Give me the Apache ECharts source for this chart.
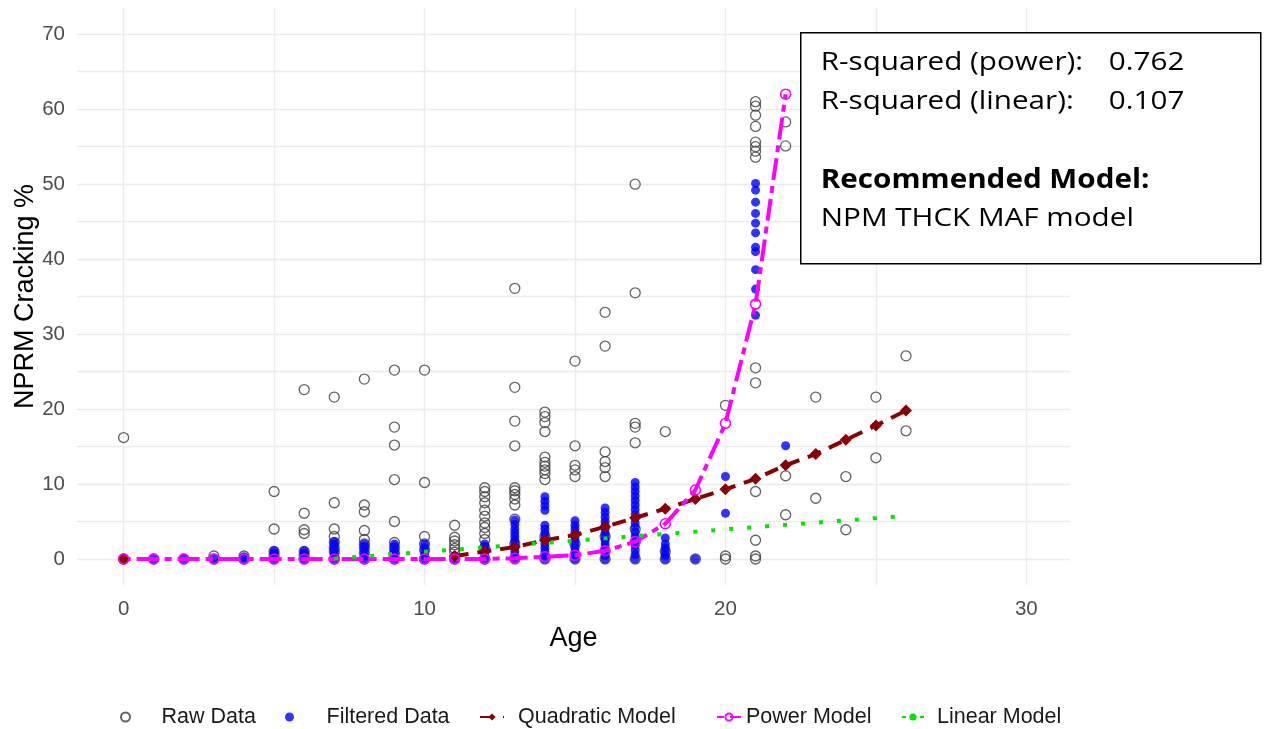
<!DOCTYPE html>
<html><head><meta charset="utf-8">
<script src="https://cdn.jsdelivr.net/npm/echarts@6/dist/echarts.min.js"></script>
<style>html,body{margin:0;padding:0;background:#fff}#c{width:1264px;height:729px}</style>
</head><body><div id="c"></div>
<script>
// ---- axis ticks ----
const xTickLabels = [0, 10, 20, 30];
const xGridValues = [0, 5, 10, 15, 20, 25, 30];
const yTickLabels = [0, 10, 20, 30, 40, 50, 60, 70];
const yGridValues = [0, 5, 10, 15, 20, 25, 30, 35, 40, 45, 50, 55, 60, 65, 70];

// ---- raw data [age, cracking %] ----
const rawData = [
 [0,16.2],[0,0],
 [1,0],[2,0],
 [3,0.4],[3,0],[4,0.4],[4,0],
 [5,9.0],[5,4.0],[5,1.0],[5,0.5],[5,0],
 [6,22.6],[6,6.1],[6,3.9],[6,3.4],[6,1.0],[6,0.5],[6,0],
 [7,21.6],[7,7.5],[7,4.0],[7,3.0],[7,2.2],[7,1.5],[7,1.0],[7,0],
 [8,24.0],[8,7.2],[8,6.3],[8,3.8],[8,2.6],[8,2.0],[8,1.5],[8,0.8],[8,0],
 [9,25.2],[9,17.6],[9,15.2],[9,10.6],[9,5.0],[9,2.2],[9,1.5],[9,0.8],[9,0],
 [10,25.2],[10,10.2],[10,3.0],[10,2.0],[10,1.2],[10,0],
 [11,4.5],[11,2.9],[11,2.4],[11,1.9],[11,1.4],[11,0.9],[11,0],
 [12,9.5],[12,9.0],[12,8.3],[12,7.5],[12,6.5],[12,5.7],[12,4.8],[12,4.2],[12,3.4],[12,2.6],[12,1.5],[12,0],
 [13,36.1],[13,22.9],[13,18.4],[13,15.1],[13,9.5],[13,9.1],[13,8.6],[13,8.0],[13,7.2],[13,5.3],[13,2.0],[13,0],
 [14,19.6],[14,19.0],[14,18.2],[14,17.0],[14,13.6],[14,12.9],[14,12.4],[14,11.9],[14,11.4],[14,10.6],[14,3.0],[14,0],
 [15,26.4],[15,15.1],[15,12.5],[15,11.9],[15,11.0],[15,2.0],[15,0],
 [16,32.9],[16,28.4],[16,14.3],[16,13.0],[16,12.2],[16,11.0],[16,3.0],[16,0],
 [17,50.0],[17,35.5],[17,18.1],[17,17.6],[17,15.5],[17,4.0],[17,0],
 [18,17.0],[18,1.0],[18,0],
 [19,0],
 [20,20.5],[20,0.4],[20,0],
 [21,61.0],[21,60.4],[21,59.2],[21,57.7],[21,55.6],[21,55.0],[21,54.4],[21,53.6],[21,25.5],[21,23.5],[21,9.0],[21,2.5],[21,0.4],[21,0],
 [22,58.3],[22,55.1],[22,11.1],[22,5.9],
 [23,21.6],[23,8.1],
 [24,11.0],[24,3.9],
 [25,21.6],[25,13.5],
 [26,27.1],[26,17.1]
];

// ---- filtered data [age, cracking %] ----
const filteredData = [
 [1,0],[2,0],[3,0],[4,0],[4,0.3],
 [5,0],[5,0.4],[5,0.8],[5,1.1],
 [6,0],[6,0.4],[6,0.8],[6,1.1],
 [7,0],[7,0.4],[7,0.8],[7,1.2],[7,1.6],[7,2.0],[7,2.3],
 [8,0],[8,0.4],[8,0.8],[8,1.2],[8,1.6],[8,2.0],
 [9,0],[9,0.4],[9,0.8],[9,1.2],[9,1.6],[9,2.0],
 [10,0],[10,0.5],[10,1.0],[10,1.5],[10,2.0],
 [11,0],[11,0.4],
 [12,0],[12,0.4],[12,0.8],[12,1.2],[12,1.6],[12,2.0],
 [13,0],[13,0.5],[13,1.0],[13,1.5],[13,2.0],[13,2.5],[13,3.0],[13,3.5],[13,4.0],[13,4.6],[13,5.2],
 [14,0],[14,0.5],[14,1.0],[14,1.5],[14,2.0],[14,2.5],[14,3.0],[14,3.5],[14,4.0],[14,4.5],[14,6.5],[14,7.1],[14,7.7],[14,8.3],
 [15,0],[15,0.5],[15,1.0],[15,1.5],[15,2.0],[15,2.5],[15,3.0],[15,3.5],[15,4.0],[15,4.5],[15,5.1],
 [16,0],[16,0.5],[16,1.0],[16,1.5],[16,2.0],[16,2.5],[16,3.0],[16,3.5],[16,4.0],[16,4.5],[16,5.0],[16,5.6],[16,6.2],[16,6.8],
 [17,0],[17,0.6],[17,1.2],[17,1.8],[17,2.4],[17,3.0],[17,3.6],[17,4.2],[17,4.8],[17,5.4],[17,6.0],[17,6.6],[17,7.2],[17,7.8],[17,8.4],[17,9.0],[17,9.6],[17,10.2],
 [18,0],[18,0.5],[18,1.0],[18,1.5],[18,2.0],[18,2.8],
 [19,0],
 [20,11.0],[20,6.1],
 [21,50.1],[21,49.2],[21,47.6],[21,46.1],[21,44.8],[21,43.5],[21,41.6],[21,41.0],[21,38.6],[21,36.0],[21,32.5],
 [22,15.1]
];

// ---- model curves ----
const quadAges   = [0, 11, 12, 13, 14, 15, 16, 17, 18, 19, 20, 21, 22, 23, 24, 25, 26];
const quadValues = [0, 0.4, 1.0, 1.6, 2.5, 3.2, 4.3, 5.5, 6.7, 8.0, 9.3, 10.7, 12.5, 14.0, 15.9, 17.8, 19.8];

const powerAges   = [0,1,2,3,4,5,6,7,8,9,10,11,12,13,14,15,16,17,18,19,20,21,22];
const powerValues = [0,0,0,0,0,0,0,0,0,0,0,0,0,0.1,0.3,0.5,1.1,2.3,4.7,9.2,18.1,34.0,62.0];

const linearAges   = [7,8,9,10,11,12,13,14,15,16,17,18,19,20,21,22,23,24,25,26];
const linearValues = [0.05,0.35,0.65,0.95,1.25,1.55,1.85,2.15,2.45,2.75,3.05,3.35,3.65,3.95,4.25,4.55,4.85,5.15,5.45,5.75];

const annotationLabels = ['R-squared (power):', 'R-squared (linear):'];
const annotationValues = ['0.762', '0.107'];
const recommendTitle = 'Recommended Model:';
const recommendName = 'NPM THCK MAF model';

// build quadratic pairs with a gap between the isolated age-0 point and the fitted range
const quadData = [];
quadAges.forEach((a, i) => {
  if (i === 1) quadData.push([ (quadAges[0] + a) / 2, '-' ]);
  quadData.push([a, quadValues[i]]);
});
const powerData = powerAges.map((a, i) => [a, powerValues[i]]);
const linearData = linearAges.map((a, i) => [a, linearValues[i]]);

const FONT = '"Liberation Sans", Arial, sans-serif';
const BOXFONT = '"Open Sans", "Noto Sans", sans-serif';
const gridColor = '#ebebeb';

function legendAt(name, left, itemWidth, padLeft) {
  return {
    data: [name], left: left, top: 701, orient: 'horizontal',
    itemWidth: itemWidth, itemHeight: 9, itemGap: 0,
    textStyle: { fontFamily: FONT, fontSize: 21.5, color: '#1a1a1a', padding: [0, 0, 0, padLeft] },
    selectedMode: false
  };
}

function boxText(text, x, y, bold) {
  return {
    type: 'text', x: x, y: y, z: 101, scaleX: 1.14, scaleY: 1,
    style: { text: text, font: (bold ? 'bold ' : '') + '26px ' + BOXFONT, fill: '#000', textVerticalAlign: 'middle' }
  };
}

const chart = echarts.init(document.getElementById('c'), null, { renderer: 'canvas' });
chart.setOption({
  animation: false,
  backgroundColor: '#fff',
  grid: { left: 77, right: 194, top: 8, bottom: 144, containLabel: false, outerBoundsMode: 'none' },
  xAxis: {
    type: 'value', min: -1.55, max: 31.45,
    axisLine: { show: false },
    axisTick: { show: false, customValues: xGridValues },
    splitLine: { show: true, lineStyle: { color: gridColor, width: 1.3 } },
    axisLabel: { customValues: xTickLabels, fontFamily: FONT, fontSize: 20.5, color: '#4d4d4d', margin: 14 },
    name: 'Age', nameLocation: 'middle', nameGap: 39,
    nameTextStyle: { fontFamily: FONT, fontSize: 27, color: '#000' }
  },
  yAxis: {
    type: 'value', min: -3.47, max: 73.5,
    axisLine: { show: false },
    axisTick: { show: false, customValues: yGridValues },
    splitLine: { show: true, lineStyle: { color: gridColor, width: 1.3 } },
    axisLabel: { customValues: yTickLabels, fontFamily: FONT, fontSize: 20.5, color: '#4d4d4d', margin: 12 },
    name: 'NPRM Cracking %', nameLocation: 'middle', nameGap: 38, nameMoveOverlap: false,
    nameTextStyle: { fontFamily: FONT, fontSize: 27, color: '#000' }
  },
  legend: [
    legendAt('Raw Data', 115, 14, 24),
    legendAt('Filtered Data', 280, 14, 25),
    legendAt('Quadratic Model', 474, 24, 9),
    legendAt('Power Model', 711, 24, 0),
    legendAt('Linear Model', 896, 22, 8)
  ],
  series: [
    {
      name: 'Raw Data', type: 'scatter', data: rawData, symbol: 'circle', symbolSize: 10,
      itemStyle: { color: 'rgba(255,255,255,0)', borderColor: '#3c3c3c', borderWidth: 1.3 }
    },
    {
      name: 'Filtered Data', type: 'scatter', data: filteredData, symbol: 'circle', symbolSize: 9,
      itemStyle: { color: '#0000ff', borderWidth: 0 }
    },
    {
      name: 'Quadratic Model', type: 'line', data: quadData, connectNulls: false,
      symbol: 'diamond', symbolSize: 12, showSymbol: true, showAllSymbol: true,
      lineStyle: { color: '#8b0000', width: 4, type: [14, 9] },
      itemStyle: { color: '#8b0000' }
    },
    {
      name: 'Power Model', type: 'line', data: powerData,
      symbol: 'circle', symbolSize: 10, showSymbol: true, showAllSymbol: true,
      lineStyle: { color: '#ff00ff', width: 4, type: [7, 6, 22, 6] },
      itemStyle: { color: 'rgba(255,255,255,0)', borderColor: '#ff00ff', borderWidth: 1.6 }
    },
    {
      name: 'Linear Model', type: 'line', data: linearData, symbol: 'none',
      lineStyle: { color: '#00e600', width: 4, type: [4, 14], cap: 'butt' },
      itemStyle: { color: '#00e600' }
    }
  ],
  graphic: [
    {
      type: 'group', left: 800, top: 32, z: 100,
      children: [
        { type: 'rect', z: 100, shape: { x: 0, y: 0, width: 460, height: 231 },
          style: { fill: '#fff', stroke: '#000', lineWidth: 1.5 } },
        boxText(annotationLabels[0], 20, 30, false),
        boxText(annotationValues[0], 308, 30, false),
        boxText(annotationLabels[1], 20, 69, false),
        boxText(annotationValues[1], 308, 69, false),
        boxText(recommendTitle, 20, 148, true),
        boxText(recommendName, 20, 186, false)
      ]
    }
  ]
});
</script>
</body></html>
